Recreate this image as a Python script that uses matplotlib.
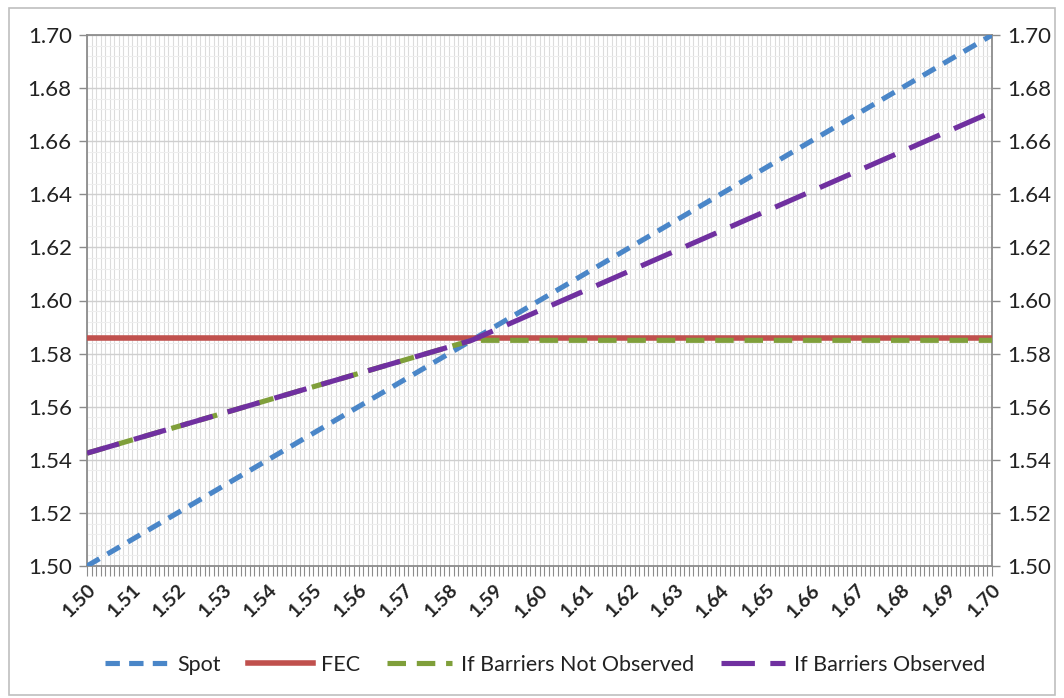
import matplotlib
matplotlib.use("Agg")
import matplotlib.pyplot as plt
from matplotlib.ticker import FixedLocator, MultipleLocator
from matplotlib.patches import Rectangle
import numpy as np

plt.rcParams['font.family'] = ['Lato', 'DejaVu Sans']

# ---- data ----
spot_x = [1.50, 1.70]
spot_y = [1.50, 1.70]
fec_x = [1.50, 1.70]
fec_y = [1.586, 1.586]
not_obs_x = [1.50, 1.585, 1.70]
not_obs_y = [1.5425, 1.585, 1.585]
obs_x = [1.50, 1.585, 1.70]
obs_y = [1.5425, 1.585, 1.671]

x_ticks = [1.50, 1.51, 1.52, 1.53, 1.54, 1.55, 1.56, 1.57, 1.58, 1.59, 1.60,
           1.61, 1.62, 1.63, 1.64, 1.65, 1.66, 1.67, 1.68, 1.69, 1.70]
x_tick_labels = ["1.50", "1.51", "1.52", "1.53", "1.54", "1.55", "1.56", "1.57",
                 "1.58", "1.59", "1.60", "1.61", "1.62", "1.63", "1.64", "1.65",
                 "1.66", "1.67", "1.68", "1.69", "1.70"]
y_ticks = [1.50, 1.52, 1.54, 1.56, 1.58, 1.60, 1.62, 1.64, 1.66, 1.68, 1.70]
y_tick_labels = ["1.50", "1.52", "1.54", "1.56", "1.58", "1.60", "1.62", "1.64",
                 "1.66", "1.68", "1.70"]

c_spot = "#4A86C8"
c_fec = "#C0504D"
c_green = "#7F9F3A"
c_purple = "#7030A0"

fig = plt.figure(figsize=(10.64, 6.98), dpi=100)
fig.patch.set_facecolor("white")
fig.patches.append(Rectangle((9 / 1064, 3 / 698), 1046 / 1064, 687 / 698,
                             transform=fig.transFigure, fill=False,
                             edgecolor="#BFBFBF", linewidth=1.2))

ax = fig.add_axes([87 / 1064, 1 - 566 / 698, (992 - 87) / 1064, (566 - 35) / 698])

lw = 3.7
ax.plot(spot_x, spot_y, color=c_spot, lw=lw, dashes=(2.8, 1.8),
        label="Spot", zorder=3)
ax.plot(fec_x, fec_y, color=c_fec, lw=4.0, label="FEC", zorder=3)
ax.plot(not_obs_x, not_obs_y, color=c_green, lw=lw, dashes=(3.6, 2.1),
        label="If Barriers Not Observed", zorder=4)
ax.plot(obs_x, obs_y, color=c_purple, lw=lw, dashes=(6.5, 3.0),
        label="If Barriers Observed", zorder=5)

ax.set_xlim(1.50, 1.70)
ax.set_ylim(1.50, 1.70)

ax.xaxis.set_major_locator(FixedLocator(x_ticks))
ax.set_xticklabels(x_tick_labels, rotation=45, ha="right",
                   rotation_mode="anchor", fontsize=14, fontweight="bold",
                   color="#222222")
ax.xaxis.set_minor_locator(MultipleLocator(0.001))
ax.yaxis.set_major_locator(FixedLocator(y_ticks))
ax.set_yticklabels(y_tick_labels, fontsize=16, color="#222222")
ax.yaxis.set_minor_locator(MultipleLocator(0.004))

ax.grid(which="minor", axis="x", color="#DCDCDC", lw=0.8, zorder=0)
ax.grid(which="major", axis="x", color="#DCDCDC", lw=0.8, zorder=0)
ax.grid(which="major", axis="y", color="#CFCFCF", lw=1.0, zorder=0)
ax.grid(which="minor", axis="y", color="#EEEEEE", lw=0.8, zorder=0)
ax.set_axisbelow(True)

for s in ax.spines.values():
    s.set_color("#8C8C8C")
    s.set_linewidth(1.3)

ax.tick_params(axis="x", which="both", direction="out", length=7, width=0.8,
               color="#8C8C8C", pad=4)
ax.tick_params(axis="y", which="major", direction="out", length=6, width=1,
               color="#8C8C8C", left=True, right=True, labelleft=True,
               labelright=True, pad=5)
ax.tick_params(axis="y", which="minor", left=False, right=False)

leg = fig.legend(loc="center", bbox_to_anchor=(0.512, 1 - 665 / 698), ncol=4,
                 frameon=False, fontsize=15.5, handlelength=3.0,
                 columnspacing=1.25, handletextpad=0.4)
for t in leg.get_texts():
    t.set_color("#222222")

fig.savefig("out.png", dpi=100, facecolor="white")
